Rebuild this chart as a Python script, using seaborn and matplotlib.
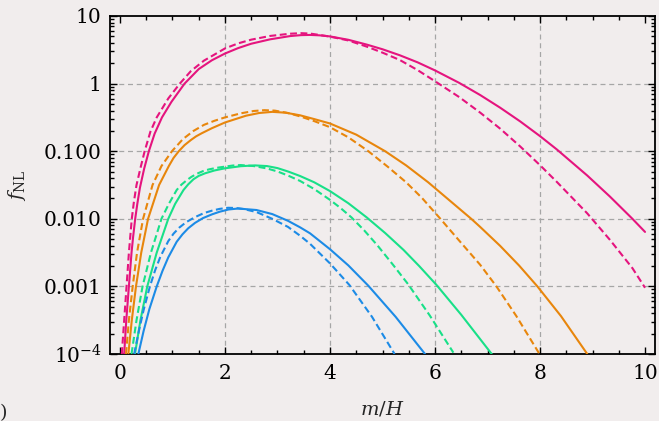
import numpy as np
import pandas as pd
import matplotlib
matplotlib.use("Agg")
import matplotlib.pyplot as plt
from matplotlib.ticker import FixedLocator, MultipleLocator, LogLocator, NullFormatter, FixedFormatter
import seaborn as sns

# ---------------- data (values given as log10 f_NL) ----------------
pink_solid_x = [0.08, 0.12, 0.17, 0.22, 0.25, 0.29, 0.33, 0.38, 0.46, 0.55, 0.66, 0.80, 0.98, 1.23, 1.5, 1.75,
                2.0, 2.25, 2.5, 2.86, 3.24, 3.45, 3.62, 3.8, 4.0, 4.35, 4.7, 5.0, 5.33, 5.67, 6.0, 6.46, 6.86,
                7.24, 7.62, 8.0, 8.32, 8.9, 9.33, 9.76, 10.0]
pink_solid_lg = [-4.0, -3.5, -3.0, -2.5, -2.27, -2.0, -1.78, -1.54, -1.26, -1.0, -0.74, -0.5, -0.27, 0.0, 0.215, 0.345,
                 0.445, 0.525, 0.59, 0.655, 0.703, 0.717, 0.72, 0.714, 0.698, 0.648, 0.577, 0.508, 0.419, 0.314, 0.195, 0.011, -0.169,
                 -0.356, -0.558, -0.777, -0.974, -1.36, -1.67, -2.0, -2.194]

pink_dash_x = [0.035, 0.08, 0.125, 0.17, 0.225, 0.265, 0.315, 0.39, 0.47, 0.58, 0.70, 0.92, 1.14, 1.35, 1.6,
               2.0, 2.25, 2.5, 2.86, 3.24, 3.45, 3.62, 3.8, 4.0, 4.35, 4.7, 5.0, 5.33, 5.67, 6.0, 6.46, 6.86,
               7.24, 7.62, 8.0, 8.32, 8.9, 9.33, 9.76, 10.0]
pink_dash_lg = [-4.0, -3.5, -3.0, -2.5, -2.0, -1.75, -1.5, -1.25, -1.0, -0.71, -0.5, -0.22, 0.0, 0.185, 0.34,
                0.52, 0.595, 0.65, 0.705, 0.738, 0.746, 0.74, 0.72, 0.695, 0.638, 0.547, 0.458, 0.349, 0.199, 0.035, -0.199, -0.429,
                -0.666, -0.928, -1.207, -1.454, -1.92, -2.31, -2.73, -3.02]

orange_solid_x = [0.16, 0.225, 0.305, 0.405, 0.535, 0.745, 0.93, 1.02, 1.12, 1.23, 1.35, 1.45, 1.556, 1.75, 2.0,
                  2.4, 2.65, 2.9, 3.15, 3.43, 3.7, 4.0, 4.5, 5.05, 5.45, 5.87, 6.28, 6.69, 6.86, 7.24, 7.6,
                  7.95, 8.4, 8.9]
orange_solid_lg = [-4.0, -3.5, -3.0, -2.5, -2.0, -1.5, -1.22, -1.10, -1.0, -0.91, -0.835, -0.78, -0.735, -0.66, -0.575,
                   -0.475, -0.435, -0.418, -0.43, -0.469, -0.525, -0.59, -0.755, -1.0, -1.21, -1.46, -1.73, -2.0, -2.12, -2.40, -2.69,
                   -3.0, -3.44, -4.0]

orange_dash_x = [0.115, 0.17, 0.242, 0.325, 0.44, 0.62, 0.79, 0.99, 1.2, 1.4, 1.6, 1.8, 2.0, 2.3, 2.55, 2.75, 2.95,
                 3.2, 3.43, 3.7, 4.0, 4.35, 4.73, 5.1, 5.45, 5.75, 6.08, 6.48, 6.86, 7.17, 7.55, 7.99]
orange_dash_lg = [-4.0, -3.5, -3.0, -2.5, -2.0, -1.5, -1.22, -1.0, -0.82, -0.70, -0.61, -0.55, -0.50, -0.44, -0.405, -0.393, -0.40,
                  -0.435, -0.485, -0.555, -0.645, -0.795, -1.0, -1.23, -1.46, -1.69, -1.98, -2.34, -2.68, -3.0, -3.44, -4.0]

green_solid_x = [0.286, 0.39, 0.52, 0.70, 0.92, 1.05, 1.21, 1.3, 1.4, 1.5, 1.62, 1.8, 2.0, 2.3, 2.57, 2.8, 3.0,
                 3.2, 3.43, 3.7, 4.0, 4.35, 4.7, 5.05, 5.4, 5.7, 6.03, 6.5, 7.08]
green_solid_lg = [-4.0, -3.5, -3.0, -2.5, -2.0, -1.78, -1.574, -1.49, -1.415, -1.365, -1.327, -1.285, -1.253, -1.222, -1.21, -1.22, -1.25,
                  -1.30, -1.367, -1.46, -1.59, -1.77, -1.98, -2.21, -2.46, -2.70, -2.98, -3.42, -4.0]

green_dash_x = [0.22, 0.315, 0.43, 0.59, 0.79, 0.93, 1.08, 1.17, 1.27, 1.36, 1.46, 1.58, 1.7, 1.85, 2.0, 2.15, 2.3,
                2.55, 2.8, 3.0, 3.2, 3.43, 3.7, 4.0, 4.2, 4.41, 4.65, 4.9, 5.2, 5.49, 5.9, 6.35]
green_dash_lg = [-4.0, -3.5, -3.0, -2.5, -2.0, -1.78, -1.574, -1.495, -1.43, -1.38, -1.335, -1.295, -1.268, -1.245, -1.228, -1.212, -1.205,
                 -1.22, -1.255, -1.30, -1.36, -1.44, -1.56, -1.72, -1.84, -1.98, -2.17, -2.39, -2.68, -2.97, -3.43, -3.98]

blue_solid_x = [0.35, 0.45, 0.56, 0.70, 0.81, 0.92, 1.08, 1.19, 1.3, 1.43, 1.58, 1.75, 1.9, 2.07, 2.25, 2.6, 2.9,
                3.2, 3.43, 3.62, 4.0, 4.35, 4.73, 5.25, 5.81]
blue_solid_lg = [-4.0, -3.66, -3.335, -3.0, -2.77, -2.57, -2.34, -2.23, -2.14, -2.06, -1.99, -1.935, -1.895, -1.862, -1.848, -1.87, -1.93,
                 -2.03, -2.126, -2.215, -2.45, -2.69, -2.99, -3.45, -4.0]

blue_dash_x = [0.27, 0.36, 0.45, 0.57, 0.67, 0.77, 0.92, 1.02, 1.13, 1.26, 1.43, 1.6, 1.75, 1.9, 2.06, 2.2, 2.35,
               2.6, 2.9, 3.2, 3.43, 3.62, 4.0, 4.37, 4.8, 5.23]
blue_dash_lg = [-4.0, -3.66, -3.35, -3.0, -2.76, -2.56, -2.33, -2.22, -2.13, -2.05, -1.975, -1.915, -1.88, -1.853, -1.837, -1.84, -1.855,
                -1.90, -2.0, -2.12, -2.25, -2.37, -2.66, -2.98, -3.45, -4.0]

x_ticks = [0, 2, 4, 6, 8, 10]
y_ticks = [1e-4, 1e-3, 1e-2, 1e-1, 1, 10]
y_tick_labels = [r"$10^{-4}$", "0.001", "0.010", "0.100", "1", "10"]

# ---------------- style ----------------
bg = "#f1eded"
sns.set_theme(style="ticks", rc={"axes.facecolor": bg, "figure.facecolor": bg})
plt.rcParams["font.family"] = ["DejaVu Serif"]
plt.rcParams["mathtext.fontset"] = "dejavuserif"

fig = plt.figure(figsize=(6.59, 4.21), dpi=100)
ax = fig.add_axes([110 / 659, 1 - 354 / 421, 545 / 659, 338 / 421])

curves = [
    (pink_solid_x, pink_solid_lg, "#e5147e", "-"),
    (pink_dash_x, pink_dash_lg, "#e5147e", "--"),
    (orange_solid_x, orange_solid_lg, "#e8860c", "-"),
    (orange_dash_x, orange_dash_lg, "#e8860c", "--"),
    (green_solid_x, green_solid_lg, "#18e088", "-"),
    (green_dash_x, green_dash_lg, "#18e088", "--"),
    (blue_solid_x, blue_solid_lg, "#1c8be6", "-"),
    (blue_dash_x, blue_dash_lg, "#1c8be6", "--"),
]
for xs, lg, col, ls in curves:
    df = pd.DataFrame({"m": xs, "f": np.power(10.0, lg)})
    style = "-" if ls == "-" else (0, (3.3, 1.7))
    sns.lineplot(data=df, x="m", y="f", color=col, linestyle=style, linewidth=1.5,
                 ax=ax, sort=False, estimator=None, zorder=3)

ax.set_yscale("log")
ax.set_xlim(-0.19, 10.19)
ax.set_ylim(1e-4, 10)

ax.xaxis.set_major_locator(FixedLocator(x_ticks))
ax.xaxis.set_minor_locator(MultipleLocator(0.5))
ax.yaxis.set_major_locator(FixedLocator(y_ticks))
ax.yaxis.set_major_formatter(FixedFormatter(y_tick_labels))
ax.yaxis.set_minor_locator(LogLocator(base=10, subs=np.arange(2, 10), numticks=20))
ax.yaxis.set_minor_formatter(NullFormatter())

ax.tick_params(which="both", direction="in", top=True, right=True, colors="black",
               labelsize=14.5, width=1.0)
ax.tick_params(which="major", length=5, pad=6)
ax.tick_params(which="minor", length=3)
ax.tick_params(axis="x", which="major", pad=7)

for s in ax.spines.values():
    s.set_color("black")
    s.set_linewidth(1.3)

ax.grid(True, which="major", color="#a6a6a6", linestyle=(0, (4, 3)), linewidth=0.9, zorder=1)
for t, gl in zip(ax.get_xticks(), ax.xaxis.get_gridlines()):
    if t in (0, 10):
        gl.set_visible(False)
for t, gl in zip(ax.get_yticks(), ax.yaxis.get_gridlines()):
    if t in (1e-4, 10):
        gl.set_visible(False)
ax.set_axisbelow(True)

ax.set_xlabel(r"$m/H$", fontsize=14)
ax.set_ylabel(r"$f_{\mathrm{NL}}$", fontsize=14)
ax.xaxis.set_label_coords(0.5, -0.135)
ax.yaxis.set_label_coords(-0.15, 0.5)

fig.text(0.0, 1 - 413 / 421, ")", ha="left", va="center", fontsize=14)

fig.savefig("out.png", dpi=100, facecolor=bg)
